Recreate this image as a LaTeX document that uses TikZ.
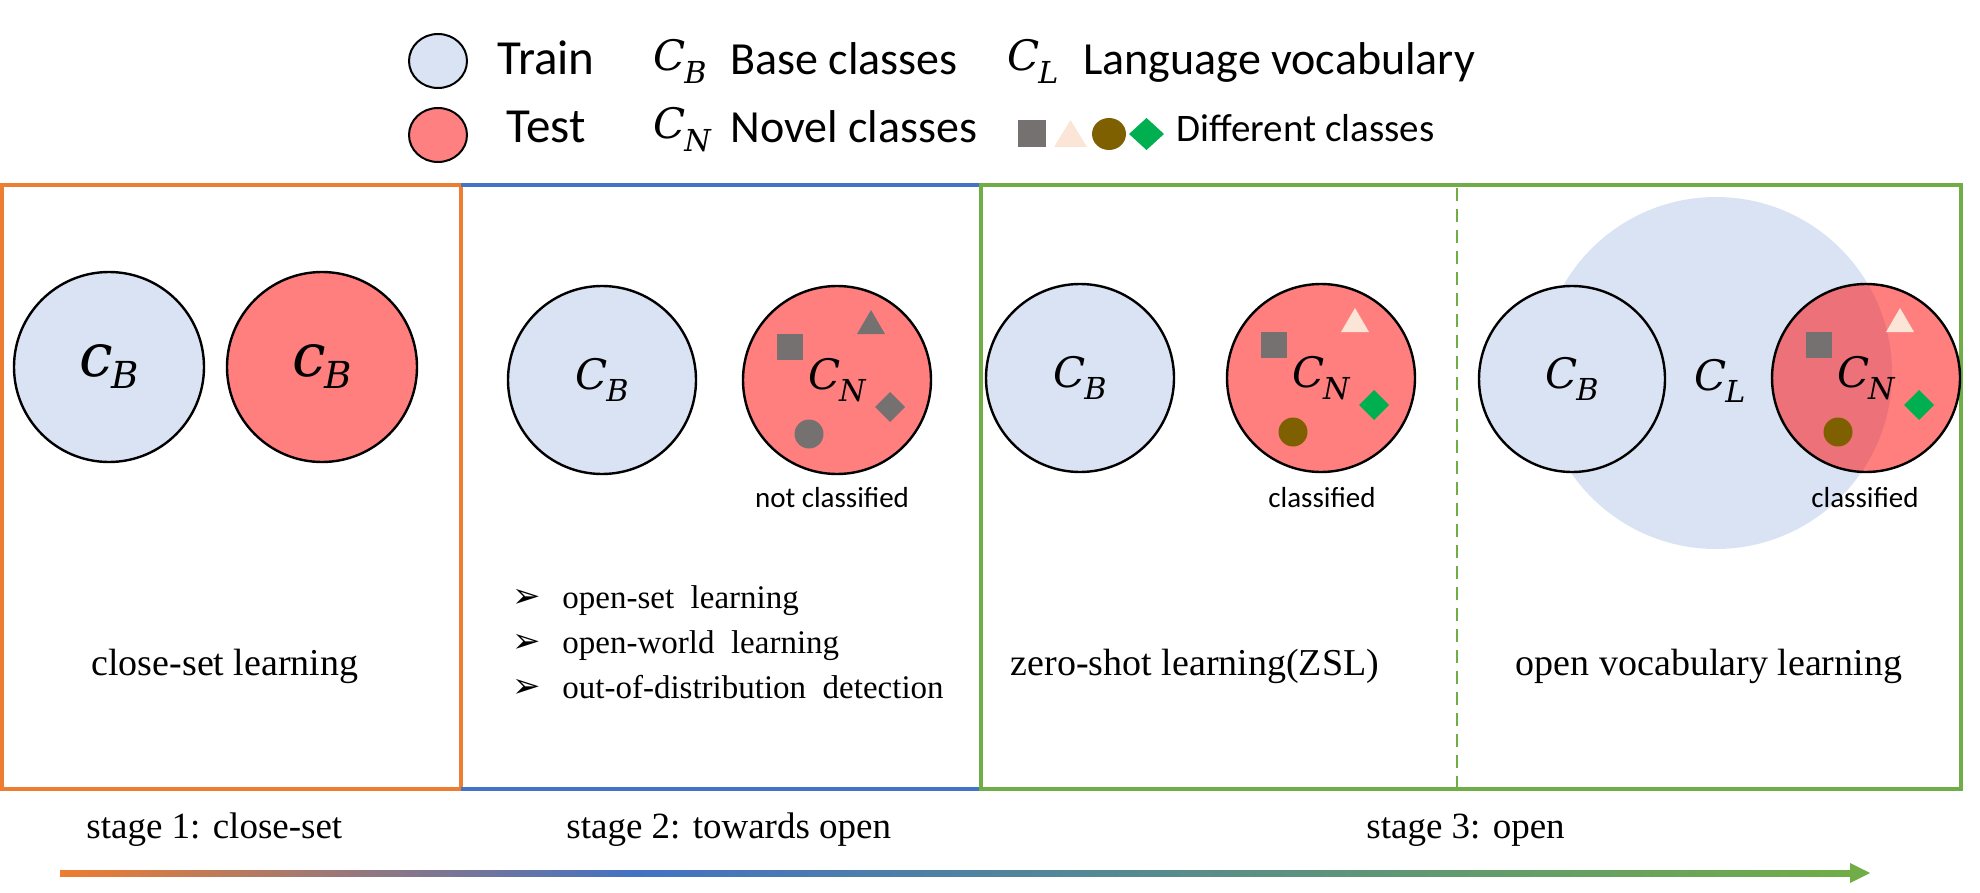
\RequirePackage{fix-cm}
\documentclass[tikz,border=0pt]{standalone}
\usepackage{fontspec}
\setmainfont{Liberation Serif}
\newfontfamily\calfont{Carlito}
\newfontfamily\dejafont{DejaVu Sans}
\newfontfamily\mfont{DejaVu Serif}[ItalicFont={DejaVu Serif Italic}]
\usetikzlibrary{shapes.geometric}
\definecolor{orangeC}{HTML}{ED7D31}
\definecolor{blueC}{HTML}{4472C4}
\definecolor{greenC}{HTML}{70AD47}
\definecolor{trainC}{HTML}{DAE3F3}
\definecolor{grayC}{HTML}{767171}
\definecolor{peachC}{HTML}{FBE5D6}
\definecolor{brownC}{HTML}{7F6000}
\definecolor{dgreenC}{HTML}{00B050}
\definecolor{testC}{HTML}{FF8080}
\pgfdeclarehorizontalshading{stagegrad}{100bp}{color(0bp)=(orangeC); color(25bp)=(orangeC); color(41bp)=(blueC); color(75bp)=(greenC); color(100bp)=(greenC)}
% class symbol: letter with italic subscript
\newcommand\clsym[4]{{\mfont\itshape #1}\kern-0.03em\raisebox{#4}{\scalebox{#3}{\mfont\itshape #2}}}
\newcommand\drawmarks[5]{%
  \begin{scope}[shift={(#1)}]
    \fill[#2] (-60,-46) rectangle (-34,-20);
    \fill[#3] (20,-46) -- (48,-46) -- (34,-70) -- cycle;
    \fill[#4] (-28,54) circle (7.25pt);
    \fill[#5] (53,12) -- (68,27) -- (53,42) -- (38,27) -- cycle;
  \end{scope}}
\begin{document}
\begin{tikzpicture}[x=0.5pt,y=-0.5pt,
  trainc/.style={circle, draw=black, line width=1.2pt, fill=trainC, inner sep=0pt, minimum size=94pt},
  testc/.style={circle, draw=black, line width=1.2pt, fill=red, fill opacity=0.5, text opacity=1, inner sep=0pt, minimum size=94pt},
  cls/.style={font=\fontsize{21}{25}\selectfont},
  bigcls/.style={font=\fontsize{30}{36}\selectfont},
  legtxt/.style={font=\calfont\fontsize{23}{27}\selectfont, inner sep=0pt, anchor=base west},
  legmath/.style={font=\fontsize{21}{25}\selectfont, inner sep=0pt, anchor=base west},
  legcirc/.style={ellipse, draw=black, line width=1pt, inner sep=0pt, minimum width=29pt, minimum height=27pt},
  labtxt/.style={font=\calfont\fontsize{14.5}{17}\selectfont, inner sep=0pt, anchor=base},
  paneltxt/.style={font=\fontsize{19}{23}\selectfont, inner sep=0pt, anchor=base},
  stagetxt/.style={font=\fontsize{18.5}{22}\selectfont, inner sep=0pt, anchor=base west},
  bultxt/.style={font=\fontsize{16.5}{20}\selectfont, inner sep=0pt, anchor=base west},
  bulmark/.style={font=\dejafont\fontsize{17}{20}\selectfont, inner sep=0pt, anchor=base west},
  frame/.style={line width=1.6pt}
]
\useasboundingbox (0,0) rectangle (1980,893);

% ---------- legend ----------
\node[legcirc, fill=trainC] (legTrain) at (438,61) {};
\node[legcirc, fill=testC] (legTest) at (438,135) {};
\node[legtxt, anchor=base, font=\calfont\fontsize{24.5}{28}\selectfont] (tTrain) at (546,75) {Train};
\node[legtxt, anchor=base, font=\calfont\fontsize{24.5}{28}\selectfont] (tTest) at (546,143) {Test};
\node[legmath] (mCB) at (653,71) {\clsym{C}{B}{0.72}{-0.3em}};
\node[legtxt] (tBase) at (730,75) {Base classes};
\node[legmath] (mCL) at (1007,71) {\clsym{C}{L}{0.72}{-0.3em}};
\node[legtxt] (tLang) at (1083,75) {Language vocabulary};
\node[legmath] (mCN) at (653,139) {\clsym{C}{N}{0.72}{-0.3em}};
\node[legtxt] (tNovel) at (730,143) {Novel classes};
\fill[grayC] (1018,120) rectangle (1046,147);
\fill[peachC] (1054,147) -- (1087,147) -- (1070.5,120) -- cycle;
\fill[brownC] (1109,134) ellipse (8.5pt and 8pt);
\fill[dgreenC] (1146.5,118) -- (1164,134) -- (1146.5,150) -- (1129,134) -- cycle;
\node[legtxt, font=\calfont\fontsize{19.5}{23}\selectfont] (tDiff) at (1176,142) {Different classes};

% ---------- frames ----------
\draw[frame, orangeC] (2,185) rectangle (461,789);
\draw[frame, blueC] (461,185) -- (981,185);
\draw[frame, blueC] (461,789) -- (981,789);
\draw[frame, greenC] (981,185) rectangle (1961,789);
\draw[greenC, line width=1.1pt, dash pattern=on 6.5pt off 4pt] (1457,188) -- (1457,787);

% ---------- panel 1 ----------
\node[trainc, minimum size=95pt, bigcls] (b1) at (109,367) {\clsym{c}{B}{0.62}{-0.2em}};
\node[testc, minimum size=95pt, bigcls] (r1) at (322,367) {\clsym{c}{B}{0.62}{-0.2em}};
\node[paneltxt] (p1t) at (225,675) {close-set learning};

% ---------- panel 2 ----------
\node[trainc, cls] (b2) at (602,380) {\clsym{C}{B}{0.72}{-0.3em}};
\node[testc, cls] (r2) at (837,380) {\clsym{C}{N}{0.72}{-0.3em}};
\drawmarks{r2}{grayC}{grayC}{grayC}{grayC}
\node[labtxt] (nc2) at (832,507) {not classified};
\node[bulmark] (bm1) at (512,607) {➢};
\node[bultxt] (bt1) at (562,608) {open-set\ \ learning};
\node[bulmark] (bm2) at (512,652) {➢};
\node[bultxt] (bt2) at (562,653) {open-world\ \ learning};
\node[bulmark] (bm3) at (512,697) {➢};
\node[bultxt] (bt3) at (562,698) {out-of-distribution\ \ detection};

% ---------- panel 3 ----------
\node[trainc, cls] (b3) at (1080,378) {\clsym{C}{B}{0.72}{-0.3em}};
\node[testc, cls] (r3) at (1321,378) {\clsym{C}{N}{0.72}{-0.3em}};
\drawmarks{r3}{grayC}{peachC}{brownC}{dgreenC}
\node[labtxt] (c3) at (1322,507) {classified};
\node[paneltxt] (p3t) at (1195,675) {zero-shot learning(ZSL)};

% ---------- panel 4 ----------
\node[circle, fill=trainC, inner sep=0pt, minimum size=176pt] (vocab) at (1716,373) {};
\node[trainc, minimum size=93pt, cls] (b4) at (1572,379) {\clsym{C}{B}{0.72}{-0.3em}};
\node[testc, cls] (r4) at (1866,378) {\clsym{C}{N}{0.72}{-0.3em}};
\node[cls, inner sep=0pt] (cL) at (1720,381) {\clsym{C}{L}{0.72}{-0.3em}};
\drawmarks{r4}{grayC}{peachC}{brownC}{dgreenC}
\node[labtxt] (c4) at (1865,507) {classified};
\node[paneltxt] (p4t) at (1709,675) {open vocabulary learning};

% ---------- stages ----------
\node[stagetxt] (s1) at (86,838) {stage 1: close-set};
\node[stagetxt] (s2) at (566,838) {stage 2: towards open};
\node[stagetxt] (s3) at (1366,838) {stage 3: open};
\coordinate (arS) at (60,870);
\coordinate (arM) at (1850,876);
\coordinate (arT) at (1870,873);
\shade[shading=stagegrad] (arS) rectangle (arM);
\fill[greenC] (1850,863) -- (arT) -- (1850,883) -- cycle;
\end{tikzpicture}
\end{document}
